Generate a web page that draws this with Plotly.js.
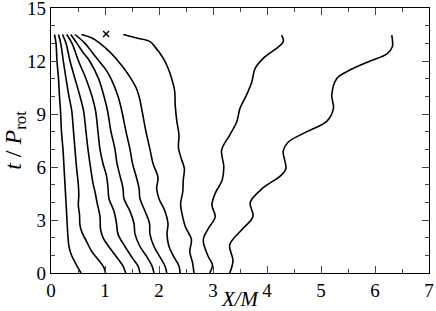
<!DOCTYPE html>
<html><head><meta charset="utf-8">
<script src="https://cdn.plot.ly/plotly-3.0.1.min.js"></script>
<style>html,body{margin:0;padding:0;background:#fff}#chart{width:436px;height:311px}</style>
</head><body><div id="chart"></div>
<script>
// Trajectories: X/M (x) against t/P_rot (y)
const c1x = [0.556,0.463,0.380,0.333,0.315,0.296,0.278,0.259,0.241,0.222,0.194,0.176,0.157,0.139,0.111,0.093,0.065];
const c1y = [0,0.5,1,1.5,2,3,4,5,6,7,8,9.2,10,11,12,13,13.5];
const c2x = [1.009,0.981,0.907,0.759,0.661,0.574,0.537,0.528,0.506,0.515,0.506,0.472,0.444,0.417,0.383,0.333,0.278,0.228,0.180,0.139];
const c2y = [0,0.3,0.64,1.2,1.77,2.3,2.7,3.3,3.85,4.4,5,6,7,8,9.2,10,11,12,13,13.5];
const c3x = [1.383,1.333,1.241,1.093,0.963,0.917,0.907,0.852,0.815,0.783,0.731,0.685,0.648,0.602,0.537,0.444,0.352,0.278,0.213];
const c3y = [0,0.4,0.8,1.4,2,2.5,3.2,4,4.6,5,6,7,8,9.2,10,11,12,13,13.5];
const c4x = [1.648,1.611,1.519,1.370,1.241,1.213,1.167,1.074,1.056,1.028,0.963,0.907,0.870,0.824,0.759,0.648,0.509,0.389,0.291];
const c4y = [0,0.4,0.8,1.5,2.2,2.8,3.5,4.2,4.8,5.5,6.2,7,8,9.2,10,11,12,13,13.5];
const c5x = [1.907,1.870,1.778,1.648,1.556,1.537,1.463,1.352,1.333,1.278,1.222,1.185,1.111,1.046,0.981,0.880,0.715,0.590,0.481,0.365];
const c5y = [0,0.4,0.9,1.5,2.2,2.8,3.5,4.2,4.8,5.5,6.2,7,8,9.2,10,11,12,12.5,13,13.5];
const c6x = [2.143,2.111,2.019,1.907,1.833,1.824,1.741,1.648,1.630,1.574,1.509,1.463,1.389,1.309,1.241,1.111,1.019,0.889,0.759,0.630,0.444];
const c6y = [0,0.4,0.9,1.5,2.2,2.8,3.5,4.2,4.8,5.5,6.2,7,8,9.2,10,11,11.5,12,12.5,13,13.5];
const c7x = [2.389,2.370,2.278,2.185,2.148,2.167,2.111,2.000,1.957,1.981,1.889,1.833,1.759,1.685,1.630,1.574,1.481,1.370,1.241,1.093,0.907,0.759,0.565];
const c7y = [0,0.4,0.9,1.5,2.2,2.8,3.5,4.2,4.8,5.4,6.2,7,8,9.2,10,10.5,11,11.5,12,12.5,13,13.3,13.5];
const c8x = [2.648,2.620,2.570,2.600,2.490,2.430,2.400,2.440,2.450,2.470,2.410,2.360,2.370,2.330,2.300,2.290,2.235,2.167,2.080,1.926,1.833,1.587,1.339];
const c8y = [0,0.6,1.2,1.9,2.6,3.3,3.9,4.6,5.3,5.9,6.5,7.1,7.8,8.6,9.5,10.3,11.0,11.6,12.15,12.8,13.1,13.3,13.5];
const c9x = [2.94,2.99,2.91,2.82,2.91,3.04,2.98,3.04,3.17,3.20,3.16,3.31,3.44,3.50,3.62,3.72,3.78,3.93,4.30,4.27];
const c9y = [0,0.45,0.95,1.87,2.5,3.17,3.85,4.5,5.26,6.02,6.96,7.81,8.56,9.32,10.07,10.83,11.58,12.15,13.09,13.47];
const c10x = [3.31,3.37,3.31,3.55,3.74,3.69,3.92,4.25,4.35,4.30,4.39,4.74,5.11,5.23,5.20,5.29,5.48,5.91,6.22,6.32,6.31];
const c10y = [0,0.7,1.6,2.5,3.2,4.0,4.8,5.5,5.9,6.9,7.4,8.0,8.6,9.3,10.1,11.0,11.4,12.0,12.4,12.8,13.47];
const markX = [1.02];
const markY = [13.53];

const curves = [[c1x,c1y],[c2x,c2y],[c3x,c3y],[c4x,c4y],[c5x,c5y],[c6x,c6y],[c7x,c7y],[c8x,c8y],[c9x,c9y],[c10x,c10y]];
const traces = curves.map(c => ({
  x: c[0], y: c[1], type: 'scatter', mode: 'lines',
  line: {color: '#000', width: 1.6, shape: 'spline', smoothing: 1.0},
  showlegend: false, hoverinfo: 'skip'
}));
traces.push({x: markX, y: markY, type: 'scatter', mode: 'markers',
  marker: {symbol: 'x-thin', size: 6, line: {color: '#000', width: 1.4}}, showlegend: false});

const fam = '"Liberation Serif", "Times New Roman", serif';
const font = {family: fam, size: 19, color: '#000'};
const layout = {
  width: 436, height: 311,
  margin: {l: 51, r: 7, t: 8, b: 38},
  paper_bgcolor: '#fff', plot_bgcolor: '#fff',
  font: font,
  xaxis: {
    range: [0, 7], dtick: 1, tick0: 0, ticks: 'inside', ticklen: 7, tickwidth: 1,
    mirror: 'allticks', showline: true, linecolor: '#000', linewidth: 1.3,
    showgrid: false, zeroline: false, tickfont: font, ticklabeloverflow: 'allow',
    minor: {dtick: 0.5, ticks: 'inside', ticklen: 4, tickwidth: 1, showgrid: false},
    title: {text: '<i>X/M</i>', font: {family: fam, size: 21, color: '#000'}, standoff: 0}
  },
  yaxis: {
    range: [0, 15], dtick: 3, tick0: 0, ticks: 'inside', ticklen: 7, tickwidth: 1,
    mirror: 'allticks', showline: true, linecolor: '#000', linewidth: 1.3,
    showgrid: false, zeroline: false, tickfont: font, ticklabeloverflow: 'allow',
    minor: {dtick: 1, ticks: 'inside', ticklen: 4, tickwidth: 1, showgrid: false},
    title: {text: '<i>t</i> / <i>P</i><sub>rot</sub>', font: {family: fam, size: 24, color: '#000'}, standoff: 2}
  }
};
Plotly.newPlot('chart', traces, layout, {staticPlot: true, displayModeBar: false});
</script></body></html>
